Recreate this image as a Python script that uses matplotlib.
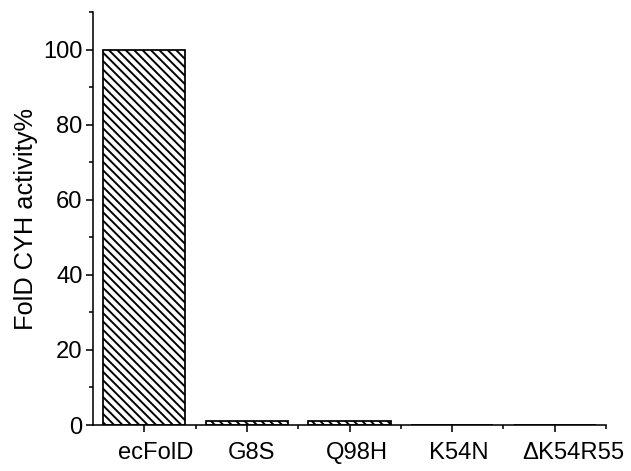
import matplotlib
matplotlib.use("Agg")
import matplotlib.pyplot as plt
import matplotlib.transforms as mtransforms
from matplotlib.ticker import MultipleLocator, FixedLocator

categories = ["ecFolD", "G8S", "Q98H", "K54N", "\u0394K54R55"]
activity = [100, 1, 1, 0, 0]

DPI = 126
plt.rcParams['font.family'] = ['Liberation Sans', 'DejaVu Sans']
plt.rcParams['hatch.linewidth'] = 1.1
plt.rcParams['hatch.color'] = 'black'

fig = plt.figure(figsize=(631 / DPI, 471 / DPI), dpi=DPI)
ax = fig.add_axes([93 / 631, 1 - 425 / 471, (606 - 93) / 631, (425 - 12) / 471])

x = list(range(len(categories)))
ax.bar(x, activity, width=0.8, color='white', edgecolor='black',
       linewidth=1.0, hatch='\\' * 5)

ax.set_xlim(-0.5, len(categories) - 0.5)
ax.set_ylim(0, 110)
ax.spines['top'].set_visible(False)
ax.spines['right'].set_visible(False)
for s in ('left', 'bottom'):
    ax.spines[s].set_linewidth(0.9)

FS = 13.6
ax.set_xticks(x)
ax.set_xticklabels(categories, fontsize=FS)
ax.xaxis.set_minor_locator(FixedLocator([i + 0.5 for i in x]))
ax.yaxis.set_major_locator(MultipleLocator(20))
ax.yaxis.set_minor_locator(MultipleLocator(10))
ax.tick_params(axis='y', which='major', labelsize=FS, length=4, width=0.9, direction='out', pad=2)
ax.tick_params(axis='y', which='minor', length=2.3, width=0.9, direction='out')
ax.tick_params(axis='x', which='major', length=4, width=0.9, direction='out', pad=5.5)
ax.tick_params(axis='x', which='minor', length=2.3, width=0.9, direction='out')
ax.set_ylabel("FolD CYH activity%", fontsize=14.5, labelpad=3)

# small horizontal nudges of the x tick labels (pixels), as in the reference
nudges = [11, 5, 7, 7, 19]
for lab, dx in zip(ax.get_xticklabels(), nudges):
    lab.set_transform(lab.get_transform() +
                      mtransforms.ScaledTranslation(dx / DPI, 0, fig.dpi_scale_trans))

fig.savefig("out.png", dpi=DPI)
